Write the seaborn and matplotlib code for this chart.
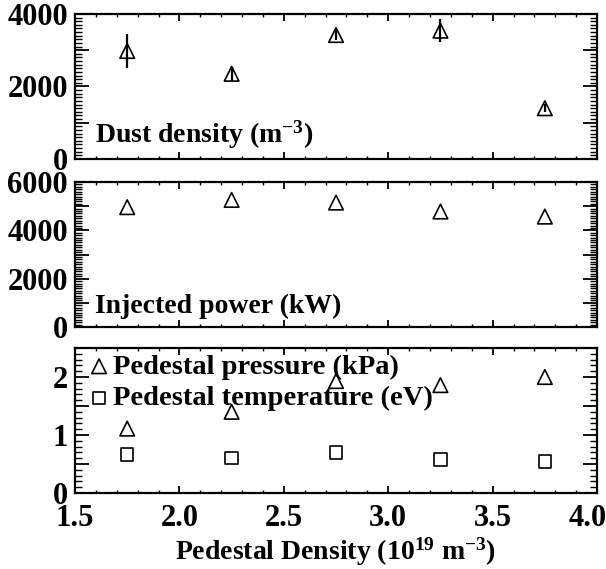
import numpy as np
import pandas as pd
import matplotlib
matplotlib.use("Agg")
import matplotlib.pyplot as plt
import matplotlib.transforms as mtransforms
from matplotlib.ticker import MultipleLocator, FuncFormatter
import seaborn as sns

# Pedestal density (10^19 m^-3)
density = [1.75, 2.25, 2.75, 3.25, 3.75]
# Dust density (m^-3) with uncertainties
dust = [2980, 2350, 3420, 3540, 1400]
dust_err = [480, 200, 150, 320, 110]
# Injected power (kW)
power = [4960, 5260, 5150, 4780, 4570]
# Pedestal pressure (kPa) and temperature (eV)
pressure = [1.11, 1.40, 1.93, 1.86, 2.00]
temperature = [0.66, 0.60, 0.70, 0.58, 0.54]

sns.set_theme(style="ticks")
plt.rcParams.update({
    "font.family": ["Liberation Serif", "DejaVu Serif"],
    "font.weight": "bold",
    "mathtext.fontset": "custom",
    "mathtext.rm": "Liberation Serif:bold",
    "mathtext.bf": "Liberation Serif:bold",
    "mathtext.it": "Liberation Serif:bold",
    "mathtext.default": "bf",
    "axes.linewidth": 1.6,
    "axes.edgecolor": "black",
    "axes.labelcolor": "black",
    "text.color": "black",
    "xtick.color": "black",
    "ytick.color": "black",
})

df = pd.DataFrame({
    "density": density, "dust": dust, "dust_err": dust_err,
    "power": power, "pressure": pressure, "temperature": temperature,
})

fig = plt.figure(figsize=(6.06, 5.69), dpi=100)
left, width = 0.1238, 0.8614
ax1 = fig.add_axes([left, 0.7206, width, 0.2548])
ax2 = fig.add_axes([left, 0.4253, width, 0.2548])
ax3 = fig.add_axes([left, 0.1336, width, 0.2548])

tri = dict(marker="^", s=110, facecolor="none", edgecolor="black", linewidth=1.2)
sq = dict(marker="s", s=80, facecolor="none", edgecolor="black", linewidth=1.2)


def every(step, fmt="{:.0f}"):
    """Label only ticks that fall on multiples of `step`."""
    def _f(v, pos):
        if abs(v / step - round(v / step)) < 1e-6:
            return fmt.format(v)
        return ""
    return FuncFormatter(_f)


# Dust density panel
ax1.errorbar(df["density"], df["dust"], yerr=df["dust_err"], fmt="none",
             ecolor="black", elinewidth=1.6, capsize=0)
sns.scatterplot(data=df, x="density", y="dust", ax=ax1, **tri)
ax1.set_ylim(0, 4000)
ax1.yaxis.set_major_locator(MultipleLocator(1000))
ax1.yaxis.set_minor_locator(MultipleLocator(100))
ax1.yaxis.set_major_formatter(every(2000))
ax1.text(0.038, 0.11, r"Dust density (m$^{-3}$)", transform=ax1.transAxes,
         ha="left", va="baseline", fontsize=20, fontweight="bold")

# Injected power panel
sns.scatterplot(data=df, x="density", y="power", ax=ax2, **tri)
ax2.set_ylim(0, 6000)
ax2.yaxis.set_major_locator(MultipleLocator(1000))
ax2.yaxis.set_minor_locator(MultipleLocator(100))
ax2.yaxis.set_major_formatter(every(2000))
ax2.text(0.038, 0.10, "Injected power (kW)", transform=ax2.transAxes,
         ha="left", va="baseline", fontsize=20, fontweight="bold")

# Pedestal pressure / temperature panel
sns.scatterplot(data=df, x="density", y="pressure", ax=ax3,
                label="Pedestal pressure (kPa)", **tri)
sns.scatterplot(data=df, x="density", y="temperature", ax=ax3,
                label="Pedestal temperature (eV)", **sq)
ax3.set_ylim(0, 2.5)
ax3.yaxis.set_major_locator(MultipleLocator(0.5))
ax3.yaxis.set_minor_locator(MultipleLocator(0.1))
ax3.yaxis.set_major_formatter(every(1))
ax3.legend(loc="upper left", bbox_to_anchor=(0.027, 0.96), frameon=False,
           handlelength=0.7, handletextpad=0.15, labelspacing=0.2,
           borderaxespad=0, borderpad=0,
           prop={"family": "Liberation Serif", "weight": "bold", "size": 20.5})

for ax in (ax1, ax2, ax3):
    ax.set_xlim(1.5, 4.0)
    ax.xaxis.set_major_locator(MultipleLocator(0.5))
    ax.xaxis.set_minor_locator(MultipleLocator(0.1))
    ax.xaxis.set_major_formatter(FuncFormatter(lambda v, p: f"{v:.1f}"))
    ax.tick_params(axis="both", which="both", direction="in",
                   top=True, right=True, labelsize=22)
    ax.tick_params(axis="y", which="major", length=10, width=1.3, pad=5)
    ax.tick_params(axis="y", which="minor", length=5, width=1.0)
    ax.tick_params(axis="x", which="major", length=5, width=1.3, pad=8)
    ax.tick_params(axis="x", which="minor", length=2.5, width=1.0)
    ax.set_xlabel("")
    ax.set_ylabel("")

ax1.tick_params(axis="x", labelbottom=False)
ax2.tick_params(axis="x", labelbottom=False)
ax3.set_xlabel(r"Pedestal Density (10$^{19}$ m$^{-3}$)", fontsize=20,
               fontweight="bold", labelpad=2)

# keep the last x tick label inside the figure
fig.canvas.draw()
shift = mtransforms.ScaledTranslation(-9 / 100, 0, fig.dpi_scale_trans)
for tick in ax3.xaxis.get_major_ticks():
    if abs(tick.get_loc() - 4.0) < 1e-6:
        tick.label1.set_transform(tick.label1.get_transform() + shift)
for ax in (ax1, ax2, ax3):
    for lab in ax.get_xticklabels() + ax.get_yticklabels():
        lab.set_fontweight("bold")

fig.savefig("out.png", dpi=100)
